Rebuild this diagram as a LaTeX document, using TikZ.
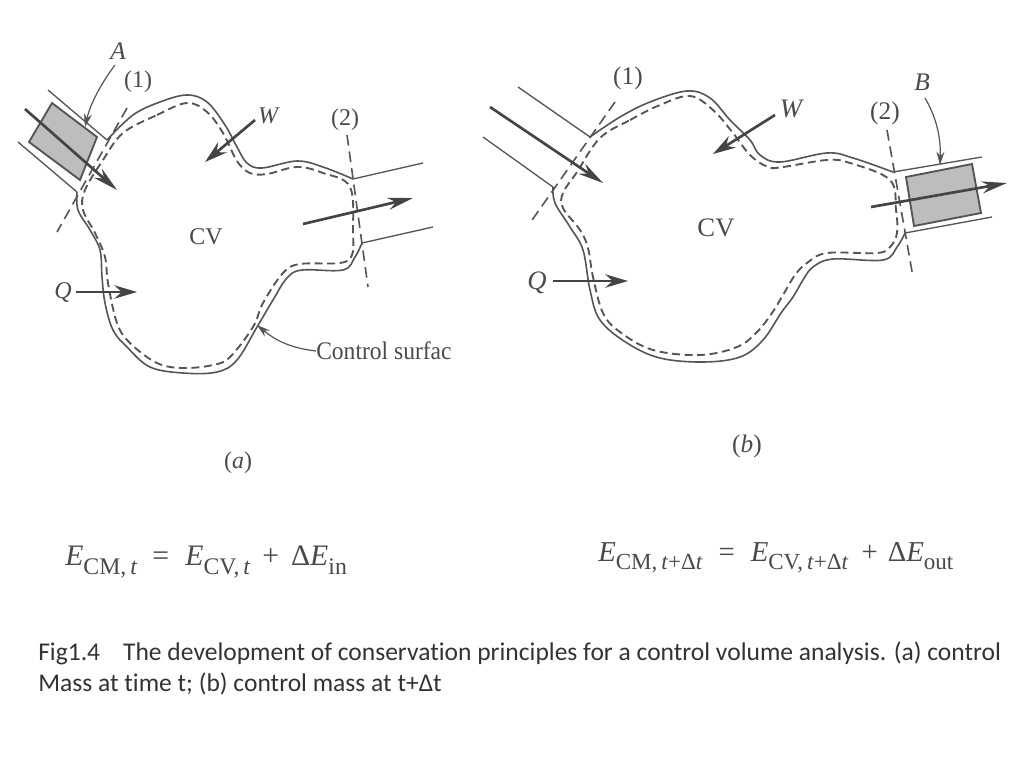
\documentclass[tikz,border=0pt]{standalone}
\usepackage{fontspec}
\setmainfont{Liberation Serif}
\newfontfamily\capfont[Ligatures=NoCommon]{Carlito}
\usetikzlibrary{arrows.meta}
\definecolor{ink}{HTML}{555555}
\definecolor{txt}{HTML}{4A4A4A}
\definecolor{shade}{HTML}{BDBDBD}
\newcommand{\dn}[1]{\raisebox{-0.28em}{\scalebox{0.8}{#1}}}
\tikzset{
  x=0.75pt,y=-0.75pt,
  wall/.style={draw=ink,line width=1.2pt,line join=round},
  cs/.style={draw=ink,line width=1.4pt,dash pattern=on 6pt off 3.4pt},
  section/.style={draw=ink,line width=1.2pt,dash pattern=on 8pt off 4.5pt},
  tube/.style={draw=ink,line width=1pt},
  flow/.style={draw=ink!80!black,line width=2pt,-{Stealth[length=19pt,width=9pt]}},
  small/.style={draw=ink!80!black,line width=2pt,-{Stealth[length=17pt,width=10pt]}},
  lead/.style={draw=ink,line width=0.9pt,-{Stealth[length=10pt,width=6pt]}},
  slug/.style={draw=ink,line width=1.4pt,fill=shade},
  lab/.style={text=txt,font=\fontsize{18}{20}\selectfont,inner sep=0pt},
  eq/.style={text=txt,inner sep=0pt,anchor=west},
  caption/.style={text=black!80,font=\capfont\fontsize{19.15}{20}\selectfont,inner sep=0pt,anchor=base west}
}
\begin{document}
\begin{tikzpicture}
\useasboundingbox (0,0) rectangle (1024,768);
\fill[white] (0,0) rectangle (1024,768);

% ---------- panel (a)
\coordinate (a1u) at (107,140);
\coordinate (a1l) at (77,192);
\coordinate (a2u) at (353,179);
\coordinate (a2l) at (362,243);
\filldraw[slug] (52,103) -- (97,137) -- (80,180) -- (29,142) -- cycle;
\draw[tube] (48,90) -- (a1u);
\draw[tube] (18,142) -- (a1l);
\draw[tube] (a2u) -- (423,163);
\draw[tube] (a2l) -- (433,227);
\draw[wall] plot[smooth,tension=0.6] coordinates {(a1u) (133,115) (160,102) (187,95) (207,102) (225,125) (237,147) (247,163) (262,168) (297,161) (323,167) (a2u)};
\draw[wall] plot[smooth,tension=0.6] coordinates {(a2l) (355,257) (343,270) (302,270) (287,278) (273,300) (257,327) (237,360) (217,372) (183,373) (150,367) (127,347) (113,330) (105,303) (102,277) (100,250) (90,230) (78,210) (a1l)};
\draw[cs] plot[smooth cycle,tension=0.6] coordinates {(123,133) (157,115) (187,103) (207,112) (223,133) (237,161) (250,173) (267,174) (297,167) (323,173) (350,187) (353,233) (352,255) (340,263) (300,264) (283,273) (263,303) (253,327) (230,357) (213,365) (183,368) (157,363) (130,343) (117,323) (108,283) (105,257) (95,233) (83,210) (85,190) (103,160)};
\draw[section] (127,108) -- (57,232);
\draw[section] (347,135) -- (368,287);
\draw[flow] (25,109) -- (117,190);
\draw[flow] (303,224) -- (413,198);
\draw[small] (255,120) -- (205,162);
\draw[small] (76,292) -- (137,292);

\node[lab,font=\itshape\fontsize{19}{20}\selectfont] (Aa) at (118,51) {A};
\node[lab] (n1a) at (138,82) {(1)};
\node[lab,font=\itshape\fontsize{18}{20}\selectfont] (Wa) at (268,116) {W};
\node[lab] (n2a) at (345,120) {(2)};
\node[lab,font=\fontsize{18}{20}\selectfont] (CVa) at (206,237) {CV};
\node[lab,font=\itshape\fontsize{18}{20}\selectfont] (Qa) at (63,292) {Q};
\node[lab,anchor=west,font=\fontsize{16.5}{20}\selectfont] (CSa) at (316,351) {\scalebox{1.07}[1.15]{Control surfac}};
\node[lab] (capa) at (238,463) {(\textit{a})};
\coordinate (tipA) at (85,127);
\coordinate (tipCS) at (257,325);
\draw[lead] (115,65) .. controls (100,85) and (90,105) .. (tipA);
\draw[lead] (CSa.west) .. controls (290,348) and (275,340) .. (tipCS);
\node[eq,font=\fontsize{22.3}{24}\selectfont] (eqa) at (65,562) {\textit{E}\dn{CM,\,\textit{t}}\hspace{0.5em}=\hspace{0.55em}\textit{E}\dn{CV,\,\textit{t}}\hspace{0.4em}+\hspace{0.4em}Δ\textit{E}\dn{in}};

% ---------- panel (b)
\coordinate (b1u) at (590,137);
\coordinate (b1l) at (553,187);
\coordinate (b2u) at (893,172);
\coordinate (b2l) at (905,233);
\filldraw[slug] (906,177) -- (972,164) -- (981,213) -- (914,226) -- cycle;
\draw[tube] (518,87) -- (b1u);
\draw[tube] (483,137) -- (b1l);
\draw[tube] (b2u) -- (982,157);
\draw[tube] (b2l) -- (992,217);
\draw[wall] plot[smooth,tension=0.6] coordinates {(b1u) (620,117) (650,102) (687,91) (710,98) (730,120) (750,140) (760,155) (780,162) (827,153) (853,158) (b2u)};
\draw[wall] plot[smooth,tension=0.6] coordinates {(b2l) (897,247) (883,260) (833,259) (813,267) (803,280) (793,297) (781,313) (763,340) (740,357) (703,362) (660,358) (627,343) (600,320) (590,290) (583,250) (570,227) (555,203) (b1l)};
\draw[cs] plot[smooth cycle,tension=0.6] coordinates {(600,138) (630,120) (660,105) (690,96) (713,110) (733,133) (750,155) (768,167) (783,167) (827,160) (850,163) (890,180) (896,210) (897,233) (890,247) (877,253) (827,253) (807,263) (795,275) (783,295) (772,313) (757,332) (737,347) (700,355) (653,350) (620,332) (603,313) (593,277) (588,248) (580,230) (563,208) (563,193) (577,172)};
\draw[section] (615,102) -- (530,223);
\draw[section] (887,130) -- (913,277);
\draw[flow] (490,107) -- (603,183);
\draw[flow] (871,207) -- (1007,183);
\draw[small] (775,115) -- (713,154);
\draw[small] (553,281) -- (628,281);

\node[lab,font=\fontsize{19}{20}\selectfont] (n1b) at (628,78) {(1)};
\node[lab,font=\itshape\fontsize{20}{20}\selectfont] (Wb) at (791,109) {W};
\node[lab,font=\fontsize{19}{20}\selectfont] (n2b) at (885,113) {(2)};
\node[lab,font=\itshape\fontsize{19}{20}\selectfont] (Bb) at (922,82) {B};
\node[lab,font=\fontsize{20}{20}\selectfont] (CVb) at (716,228) {CV};
\node[lab,font=\itshape\fontsize{20}{20}\selectfont] (Qb) at (537,283) {Q};
\node[lab,font=\fontsize{19}{20}\selectfont] (capb) at (747,446) {(\textit{b})};
\coordinate (tipB) at (940,165);
\draw[lead] (925,98) .. controls (935,115) and (941,135) .. (tipB);
\node[eq,font=\fontsize{21.6}{24}\selectfont] (eqb) at (598,558) {\textit{E}\dn{CM,\,\textit{t}+Δ\textit{t}}\hspace{0.55em}=\hspace{0.55em}\textit{E}\dn{CV,\,\textit{t}+Δ\textit{t}}\hspace{0.45em}+\hspace{0.35em}Δ\textit{E}\dn{out}};

% ---------- caption
\node[caption] (cap1) at (38,660) {Fig1.4\hspace{0.9em}The development of conservation principles for a control volume analysis. (a) control};
\node[caption] (cap2) at (38,691) {Mass at time t; (b) control mass at t+Δt};
\end{tikzpicture}
\end{document}
